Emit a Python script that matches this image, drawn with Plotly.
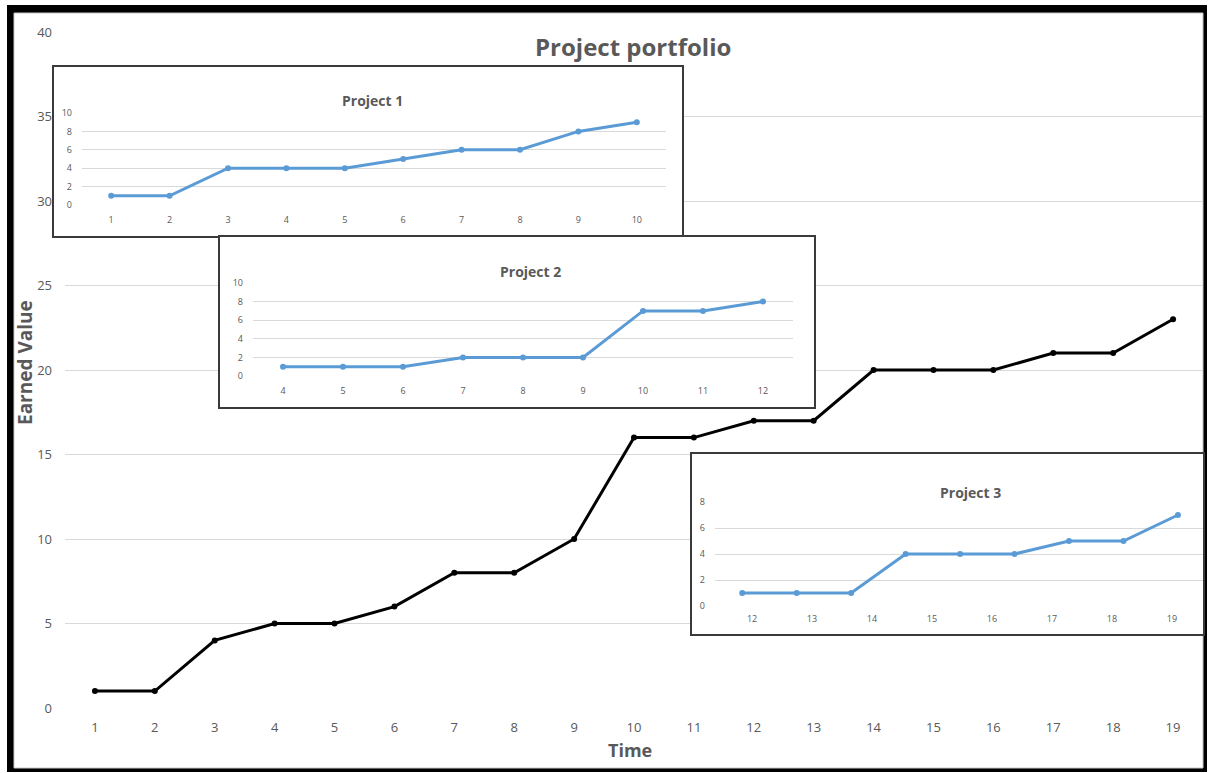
import plotly.graph_objects as go

# ---------------- data ----------------
time_main = [str(t) for t in range(1, 20)]
earned_main = [1, 1, 4, 5, 5, 6, 8, 8, 10, 16, 16, 17, 17, 20, 20, 20, 21, 21, 23]

p1_time = [str(t) for t in range(1, 11)]
p1_values = [1, 1, 4, 4, 4, 5, 6, 6, 8, 9]

p2_time = [str(t) for t in range(4, 13)]
p2_values = [1, 1, 1, 2, 2, 2, 7, 7, 8]

p3_points = list(range(9))
p3_values = [1, 1, 1, 4, 4, 4, 5, 5, 7]
p3_labels = [str(t) for t in range(12, 20)]

main_yticks = [0, 5, 10, 15, 20, 25, 30, 35, 40]
inset_yticks_10 = [0, 2, 4, 6, 8, 10]
inset_yticks_8 = [0, 2, 4, 6, 8]

# ---------------- layout helpers ----------------
W, H = 1208, 773
def dx(a, b):
    return [a / W, b / W]
def dy(top, bottom):
    return [1 - bottom / H, 1 - top / H]
def px(x):
    return x / W
def py(y):
    return 1 - y / H

FONT = "'Open Sans', sans-serif"
GREY = "#595959"
GRID = "#d9d9d9"
BLUE = "#5B9BD5"

fig = go.Figure()

# main series
fig.add_trace(go.Scatter(x=time_main, y=earned_main, mode="lines+markers",
                         line=dict(color="black", width=3),
                         marker=dict(color="black", size=6),
                         xaxis="x", yaxis="y", showlegend=False))

# box subplots (empty traces to register them)
for i in (2, 4, 6):
    fig.add_trace(go.Scatter(x=[None], y=[None], xaxis=f"x{i}", yaxis=f"y{i}",
                             showlegend=False, hoverinfo="skip"))

fig.add_trace(go.Scatter(x=p1_time, y=p1_values, mode="lines+markers",
                         line=dict(color=BLUE, width=3), marker=dict(color=BLUE, size=6),
                         xaxis="x3", yaxis="y3", showlegend=False))
fig.add_trace(go.Scatter(x=p2_time, y=p2_values, mode="lines+markers",
                         line=dict(color=BLUE, width=3), marker=dict(color=BLUE, size=6),
                         xaxis="x5", yaxis="y5", showlegend=False))
fig.add_trace(go.Scatter(x=p3_points, y=p3_values, mode="lines+markers",
                         line=dict(color=BLUE, width=3), marker=dict(color=BLUE, size=6),
                         xaxis="x7", yaxis="y7", showlegend=False))
# label axis for project 3
fig.add_trace(go.Scatter(x=p3_labels, y=[None] * len(p3_labels), mode="markers",
                         xaxis="x8", yaxis="y7", showlegend=False, hoverinfo="skip"))

def box_axes(xdom, ydom, anchor_x, anchor_y):
    ax = dict(domain=xdom, range=[0, 1], showgrid=False, zeroline=False,
              showticklabels=False, showline=True, mirror=True, automargin=False,
              linecolor="#3a3a3a", linewidth=1.5, anchor=anchor_y, fixedrange=True)
    ay = dict(domain=ydom, range=[0, 1], showgrid=False, zeroline=False,
              showticklabels=False, showline=True, mirror=True, automargin=False,
              linecolor="#3a3a3a", linewidth=1.5, anchor=anchor_x, fixedrange=True)
    return ax, ay

bx2, by2 = box_axes(dx(54, 682), dy(67, 236), "x2", "y2")
bx4, by4 = box_axes(dx(220, 814), dy(237, 407), "x4", "y4")
bx6, by6 = box_axes(dx(692, 1203), dy(454, 634), "x6", "y6")

small_tick = dict(family=FONT, size=9, color=GREY)

fig.update_layout(
    width=W, height=H,
    margin=dict(l=0, r=0, t=0, b=0, autoexpand=False),
    paper_bgcolor="white", plot_bgcolor="white",
    font=dict(family=FONT, color=GREY),
    xaxis=dict(domain=dx(65, 1203), type="category", range=[-0.5, 18.5],
               showgrid=False, zeroline=False, automargin=False,
               showline=False, tickfont=dict(family=FONT, size=13, color=GREY),
               ticklabelstandoff=10, anchor="y"),
    yaxis=dict(domain=dy(32, 708), range=[0, 40], tickvals=main_yticks,
               showgrid=True, gridcolor=GRID, gridwidth=1, zeroline=False,
               automargin=False, tickfont=dict(family=FONT, size=13, color=GREY),
               ticklabelstandoff=12, anchor="x"),
    xaxis2=bx2, yaxis2=by2,
    xaxis4=bx4, yaxis4=by4,
    xaxis6=bx6, yaxis6=by6,
    xaxis3=dict(domain=dx(82, 666), type="category", range=[-0.5, 9.5],
                showgrid=False, zeroline=False, automargin=False,
                tickfont=small_tick, ticklabelstandoff=8, anchor="y3"),
    yaxis3=dict(domain=dy(113, 205), range=[0, 10], tickvals=inset_yticks_10,
                showgrid=True, gridcolor=GRID, zeroline=False, tickfont=small_tick,
                automargin=False, ticklabelstandoff=9, anchor="x3"),
    xaxis5=dict(domain=dx(253, 793), type="category", range=[-0.5, 8.5],
                showgrid=False, zeroline=False, automargin=False,
                tickfont=small_tick, ticklabelstandoff=8, anchor="y5"),
    yaxis5=dict(domain=dy(283, 376), range=[0, 10], tickvals=inset_yticks_10,
                showgrid=True, gridcolor=GRID, zeroline=False, tickfont=small_tick,
                automargin=False, ticklabelstandoff=9, anchor="x5"),
    xaxis7=dict(domain=dx(715, 1203), range=[-0.5, 8.46], showgrid=False, zeroline=False,
                showticklabels=False, automargin=False, anchor="y7"),
    xaxis8=dict(overlaying="x7", domain=dx(715, 1203), type="category",
                range=[-0.617, 7.517], showgrid=False, zeroline=False, automargin=False,
                tickfont=small_tick, ticklabelstandoff=6,
                anchor="y7", side="bottom"),
    yaxis7=dict(domain=dy(502, 606), range=[0, 8], tickvals=inset_yticks_8,
                showgrid=True, gridcolor=GRID, zeroline=False, automargin=False,
                tickfont=small_tick, ticklabelstandoff=9, anchor="x7"),
)

# frame
fig.add_shape(type="rect", xref="paper", yref="paper", layer="below",
              x0=px(7), x1=px(1207), y0=py(772), y1=py(5),
              fillcolor="black", line=dict(width=0))
fig.add_shape(type="rect", xref="paper", yref="paper", layer="below",
              x0=px(14), x1=px(1203), y0=py(768), y1=py(13),
              fillcolor="white", line=dict(color="#c8c8c8", width=1))

# texts
def label(text, cx, cy, size, angle=0):
    fig.add_annotation(text=f"<b>{text}</b>", xref="paper", yref="paper",
                       x=px(cx), y=py(cy), xanchor="center", yanchor="middle",
                       showarrow=False, textangle=angle,
                       font=dict(family=FONT, size=size, color=GREY))

label("Project portfolio", 633, 46, 24)
label("Time", 630, 750, 18)
label("Earned Value", 25, 363, 19, angle=-90)
for name, (cx, cy) in zip(["Project 1", "Project 2", "Project 3"],
                          [(372, 101), (530, 271), (970, 492)]):
    label(name, cx, cy, 14)

fig.write_html("out.html")
